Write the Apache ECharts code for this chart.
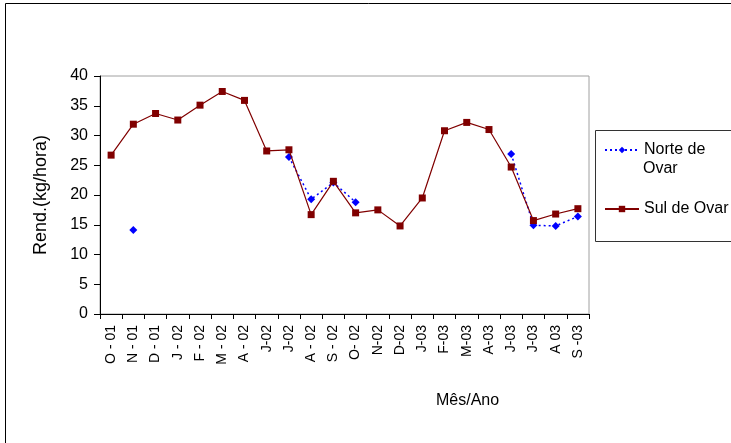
<!DOCTYPE html>
<html><head><meta charset="utf-8">
<script src="https://cdn.jsdelivr.net/npm/echarts@6/dist/echarts.min.js"></script>
<style>html,body{margin:0;padding:0;background:#fff}#c{width:731px;height:443px}</style>
</head><body><div id="c"></div>
<script>
var categories = ['O - 01','N - 01','D - 01','J - 02','F - 02','M - 02','A - 02','J-02','J-02','A - 02','S - 02','O- 02','N-02','D-02','J-03','F-03','M-03','A-03','J-03','J-03','A 03','S -03'];
var norte = [null,14.1,null,null,null,null,null,null,26.4,19.3,22.1,18.8,null,null,null,null,null,null,26.9,14.9,14.8,16.4];
var sul = [26.7,31.9,33.7,32.6,35.1,37.4,35.9,27.4,27.6,16.7,22.3,17.0,17.5,14.8,19.5,30.8,32.2,31.0,24.7,15.7,16.8,17.7];
var yTicks = {min:0, max:40, interval:5};

var FONT = '"Liberation Sans", Arial, sans-serif';
var chart = echarts.init(document.getElementById('c'), null, {renderer:'canvas'});
chart.setOption({
  animation:false,
  backgroundColor:'#fff',
  textStyle:{fontFamily:FONT},
  grid:{left:100, right:142, top:76, bottom:129, show:true, borderColor:'#a0a0a0', borderWidth:1},
  xAxis:{
    type:'category', data:categories, boundaryGap:true,
    axisLine:{lineStyle:{color:'#000', width:1}},
    axisTick:{show:true, alignWithLabel:false, interval:0, length:5, lineStyle:{color:'#000'}},
    axisLabel:{interval:0, rotate:90, color:'#000', fontSize:14, fontFamily:FONT, margin:11},
    splitLine:{show:false}
  },
  yAxis:{
    type:'value', min:yTicks.min, max:yTicks.max, interval:yTicks.interval,
    name:'Rend.(kg/hora)', nameLocation:'middle', nameGap:50,
    nameTextStyle:{color:'#000', fontSize:18, fontFamily:FONT},
    axisLine:{show:true, lineStyle:{color:'#000', width:1}},
    axisTick:{show:true, length:6, lineStyle:{color:'#000'}},
    axisLabel:{color:'#000', fontSize:16, fontFamily:FONT, margin:12},
    splitLine:{show:false}
  },
  legend:{
    orient:'vertical', left:599, top:135, itemGap:39, itemWidth:34, itemHeight:8,
    textStyle:{color:'#000', fontSize:16, fontFamily:FONT, lineHeight:20},
    formatter:function(n){ return n === 'Norte de Ovar' ? 'Norte de' : n; },
    data:[{name:'Norte de Ovar'},{name:'Sul de Ovar'}]
  },
  graphic:[
    {type:'rect', shape:{x:5.5, y:3.5, width:740, height:460}, style:{fill:null, stroke:'#000', lineWidth:1}, z:-1},
    {type:'rect', shape:{x:595.5, y:130.5, width:150, height:111}, style:{fill:'#fff', stroke:'#333', lineWidth:1}, z:-1},
    {type:'text', left:643, top:161, style:{text:'Ovar', fill:'#000', fontSize:16, fontFamily:FONT}},
    {type:'text', left:436, top:393, style:{text:'Mês/Ano', fill:'#000', fontSize:16, fontFamily:FONT}}
  ],
  series:[
    {name:'Norte de Ovar', type:'line', data:norte, connectNulls:false,
     symbol:'diamond', symbolSize:8, itemStyle:{color:'#0000ff'},
     lineStyle:{color:'#0000ff', width:1.5, type:[2,3]}, z:2},
    {name:'Sul de Ovar', type:'line', data:sul,
     symbol:'rect', symbolSize:7, itemStyle:{color:'#800000'},
     lineStyle:{color:'#800000', width:1.2}, z:3}
  ]
});
</script></body></html>
